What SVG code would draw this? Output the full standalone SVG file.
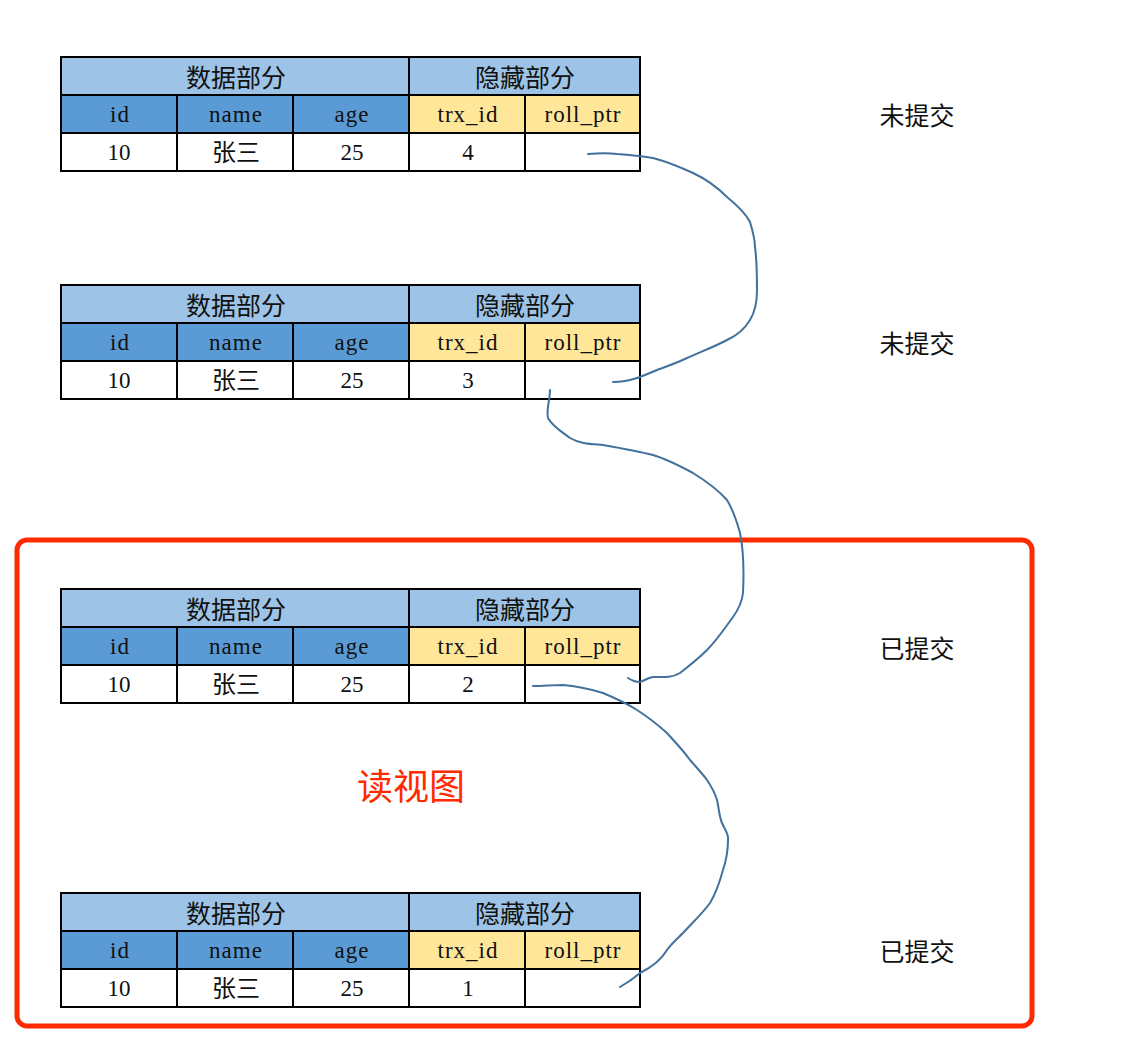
<svg xmlns="http://www.w3.org/2000/svg" width="1136" height="1046" viewBox="0 0 1136 1046">
<defs>
<style>
.h{fill:#9DC3E6;stroke:#000;stroke-width:2}
.b{fill:#5B9BD5;stroke:#000;stroke-width:2}
.y{fill:#FFE699;stroke:#000;stroke-width:2}
.w{fill:#fff;stroke:#000;stroke-width:2}
text{font-family:"Liberation Serif","Noto Sans CJK SC",serif;text-anchor:middle;fill:#111}
.t1{font-size:25px;font-family:"Noto Sans CJK SC",serif}
.t2{font-size:23px}
.ls{letter-spacing:1px}
.zh{font-size:24px;font-family:"Noto Sans CJK SC",serif}
.lab{font-family:"Noto Sans CJK SC",sans-serif;font-size:25px;text-anchor:middle;fill:#111}
.red{font-family:"Noto Sans CJK SC",sans-serif;font-size:36px;text-anchor:middle;fill:#FF2A00}
.c{fill:none;stroke:#41719C;stroke-width:2;stroke-linecap:round;stroke-linejoin:round}
</style>
<g id="tbl">
<rect class="h" x="61" y="0" width="348" height="38"/>
<rect class="h" x="409" y="0" width="231" height="38"/>
<rect class="b" x="61" y="38" width="116" height="38"/>
<rect class="b" x="177" y="38" width="116" height="38"/>
<rect class="b" x="293" y="38" width="116" height="38"/>
<rect class="y" x="409" y="38" width="116" height="38"/>
<rect class="y" x="525" y="38" width="115" height="38"/>
<rect class="w" x="61" y="76" width="116" height="38"/>
<rect class="w" x="177" y="76" width="116" height="38"/>
<rect class="w" x="293" y="76" width="116" height="38"/>
<rect class="w" x="409" y="76" width="116" height="38"/>
<rect class="w" x="525" y="76" width="115" height="38"/>
<text class="t1" x="236" y="30">数据部分</text>
<text class="t1" x="525" y="30">隐藏部分</text>
<text class="t2 ls" x="120" y="65">id</text>
<text class="t2 ls" x="236" y="65">name</text>
<text class="t2 ls" x="352" y="65">age</text>
<text class="t2 ls" x="468" y="65">trx_id</text>
<text class="t2 ls" x="583" y="65">roll_ptr</text>
<text class="t2" x="119" y="103">10</text>
<text class="zh" x="236" y="104">张三</text>
<text class="t2" x="352" y="103">25</text>
</g>
</defs>
<rect width="1136" height="1046" fill="#fff"/>
<g id="row4">
<use href="#tbl" y="57"/>
<text class="t2" x="468" y="160">4</text>
</g>
<g id="row3">
<use href="#tbl" y="285"/>
<text class="t2" x="468" y="388">3</text>
</g>
<g id="row2">
<use href="#tbl" y="589"/>
<text class="t2" x="468" y="692">2</text>
</g>
<g id="row1">
<use href="#tbl" y="893"/>
<text class="t2" x="468" y="996">1</text>
</g>
<g id="readview">
<rect x="17" y="540" width="1015" height="486" rx="10" fill="none" stroke="#FF2A00" stroke-width="5"/>
<text class="red" x="411" y="800">读视图</text>
</g>
<g id="labels">
<text class="lab" x="917" y="125">未提交</text>
<text class="lab" x="917" y="353">未提交</text>
<text class="lab" x="917" y="658">已提交</text>
<text class="lab" x="917" y="961">已提交</text>
</g>
<g id="connectors">
<path class="c" d="M588,154 C600,153 610,153 617,154 C630,155 640,156 653,158 C668,162 680,167 693,173 C706,179 717,187 727,197 C738,206 746,214 750,222 C753,232 755,240 755,247 C757,262 757,276 757,290 C757,302 755,312 750,320 C744,330 736,336 727,340 C714,347 700,352 687,358 C677,363 667,366 657,370 C650,373 643,376 637,378 C628,381 620,382 613,382"/>
<path class="c" d="M550,390 C550,400 546,410 548,418 C552,426 562,432 570,438 C580,444 592,444 603,445 C620,448 637,451 653,455 C667,459 680,466 693,473 C706,481 718,490 727,500 C733,510 737,522 740,533 C744,552 744,572 743,593 C742,602 738,610 733,617 C725,628 717,640 707,650 C698,659 689,666 680,673 C672,678 662,677 653,677 C647,678 644,681 640,682 C635,682 631,680 628,678"/>
<path class="c" d="M533,686 C543,686 553,685 563,685 C577,686 590,689 603,693 C615,698 626,703 637,710 C648,717 658,725 667,733 C675,742 683,750 690,760 C696,767 702,773 707,780 C711,786 715,793 717,800 C719,808 719,816 722,823 C725,830 729,834 728,840 C728,850 726,861 723,870 C720,881 716,893 710,903 C702,914 692,923 683,933 C677,939 671,944 667,950 C660,962 650,968 640,973 C633,979 627,983 620,987"/>
</g>
</svg>
